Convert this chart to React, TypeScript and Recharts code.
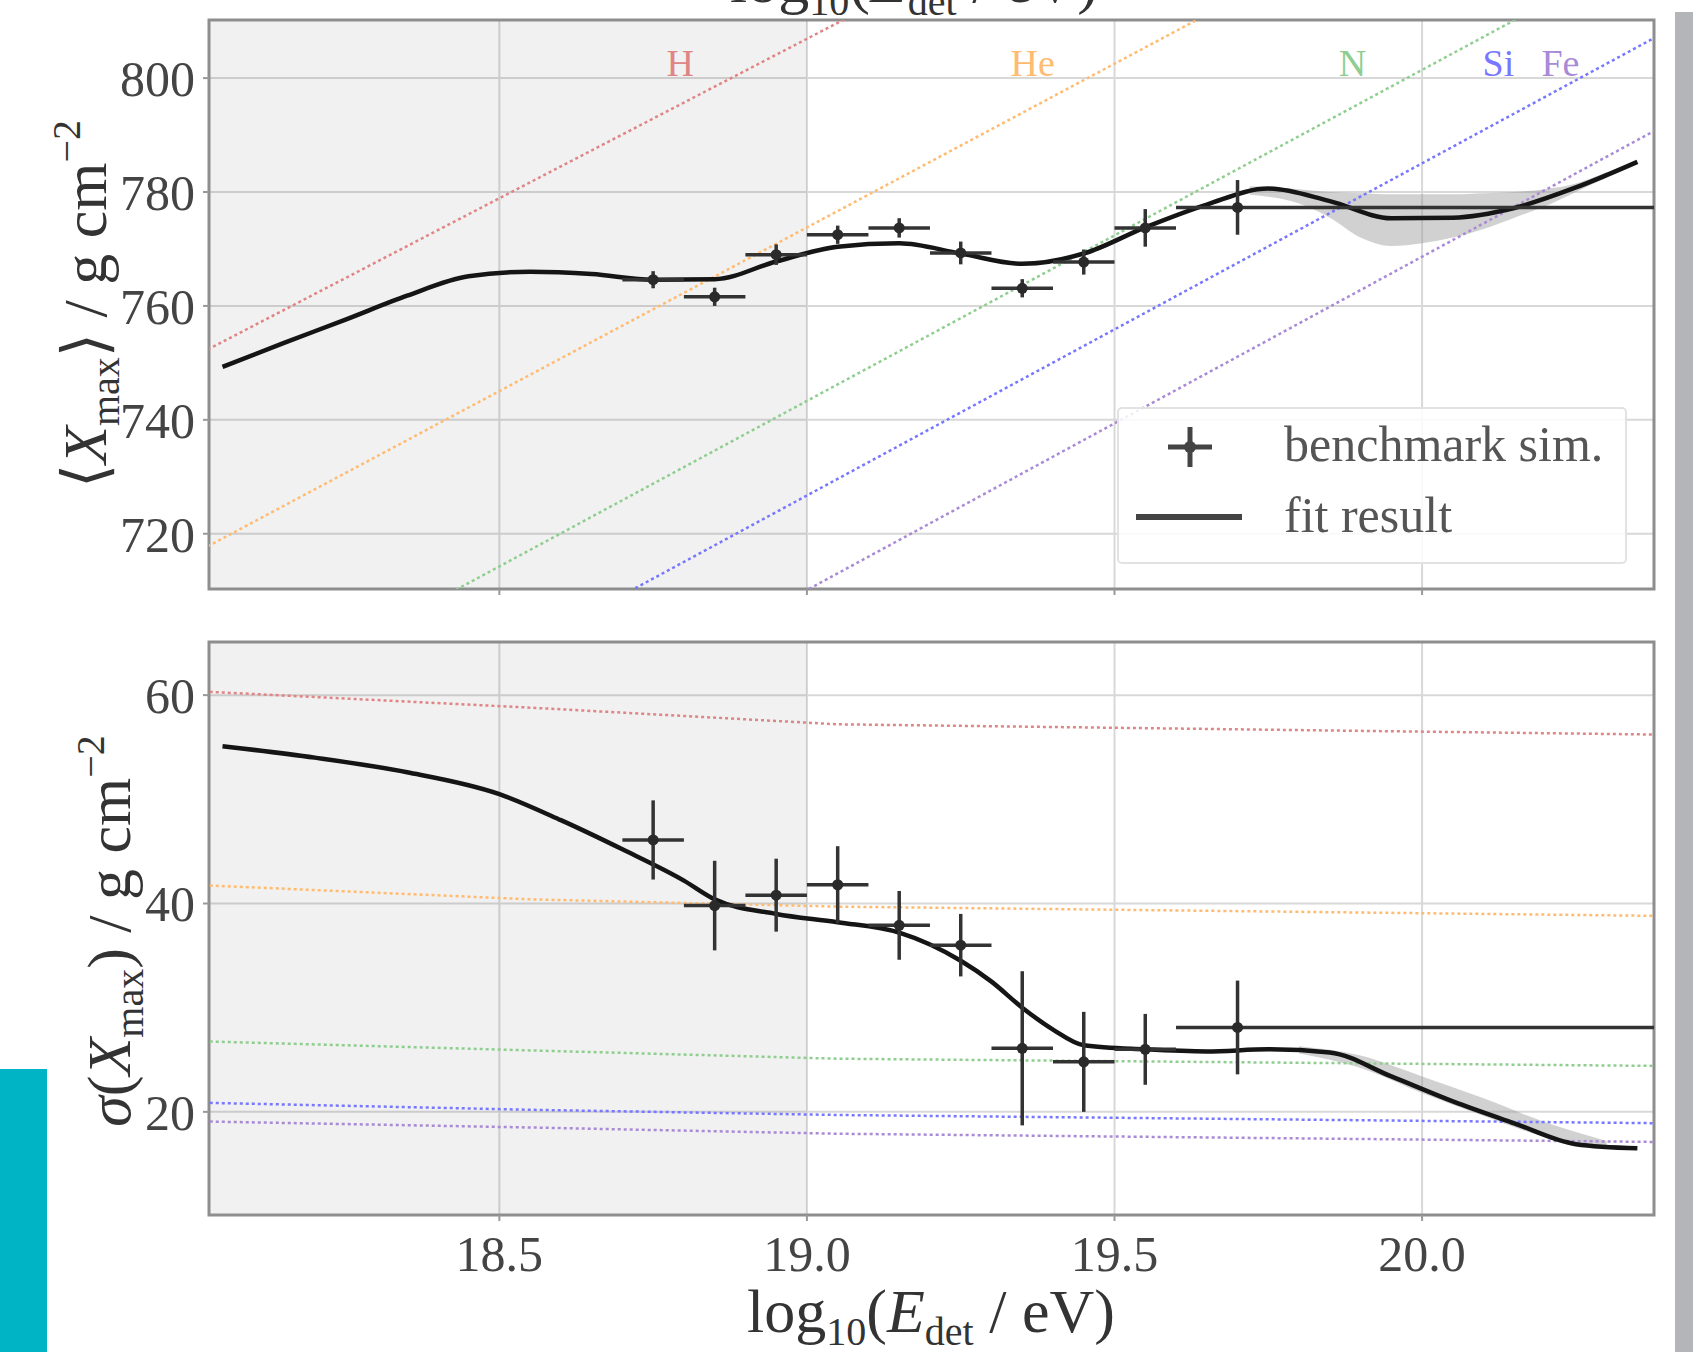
import React from 'react';
import {
  ComposedChart,
  Line,
  Area,
  Scatter,
  ErrorBar,
  XAxis,
  YAxis,
  CartesianGrid,
  ReferenceArea,
  ReferenceDot,
  Legend,
} from 'recharts';

// energy bins of the benchmark simulation, log10(E_det / eV)
const binCenters = [18.75, 18.85, 18.95, 19.05, 19.15, 19.25, 19.35, 19.45, 19.55, 19.7];
const binLow = [0.05, 0.05, 0.05, 0.05, 0.05, 0.05, 0.05, 0.05, 0.05, 0.1];
const binHigh = [0.05, 0.05, 0.05, 0.05, 0.05, 0.05, 0.05, 0.05, 0.05, 0.677];

// <Xmax> of the benchmark simulation
const meanXmax = [764.6, 761.6, 769.0, 772.5, 773.7, 769.3, 763.1, 767.7, 773.7, 777.3];
const meanXmaxErr = [1.5, 1.6, 1.8, 1.6, 1.7, 2.0, 1.6, 2.2, 3.3, 4.8];

// sigma(Xmax) of the benchmark simulation
const sigmaXmax = [46.1, 39.8, 40.8, 41.8, 37.9, 36.0, 26.1, 24.8, 26.0, 28.1];
const sigmaXmaxErr = [3.8, 4.3, 3.5, 3.7, 3.3, 3.0, 7.4, 4.8, 3.4, 4.5];

// fit result, <Xmax>
const fitMeanX = [18.05, 18.15, 18.25, 18.35, 18.45, 18.55, 18.65, 18.75, 18.85, 18.95, 19.05, 19.15, 19.25, 19.35, 19.45, 19.55, 19.65, 19.75, 19.85, 19.95, 20.05, 20.15, 20.25, 20.35];
const fitMeanY = [749.3, 753.5, 757.6, 761.8, 765.2, 766.0, 765.6, 764.6, 764.7, 767.8, 770.4, 771.0, 769.2, 767.4, 769.2, 773.8, 777.8, 780.6, 778.4, 775.4, 775.5, 777.2, 780.8, 785.3];

// fit result uncertainty band, <Xmax>
const bandMeanX = [19.72, 19.8, 19.85, 19.9, 19.95, 20.0, 20.05, 20.1, 20.15, 20.2, 20.25, 20.3];
const bandMeanLo = [779.5, 778.0, 775.5, 772.0, 770.5, 771.0, 772.0, 773.5, 775.5, 777.5, 780.0, 782.5];
const bandMeanHi = [781.0, 780.5, 780.0, 779.8, 779.6, 779.6, 779.6, 779.8, 780.0, 780.5, 781.5, 783.5];

// fit result, sigma(Xmax)
const fitSigmaX = [18.05, 18.2, 18.35, 18.5, 18.6, 18.7, 18.8, 18.85, 18.95, 19.05, 19.15, 19.25, 19.3, 19.35, 19.4, 19.45, 19.55, 19.65, 19.75, 19.85, 19.95, 20.05, 20.15, 20.25, 20.35];
const fitSigmaY = [55.1, 54.0, 52.6, 50.5, 48.0, 45.2, 42.2, 40.4, 39.0, 38.2, 37.2, 34.5, 32.5, 30.0, 27.9, 26.4, 26.0, 25.8, 26.0, 25.7, 23.4, 21.0, 18.9, 16.9, 16.5];

const bandSigmaX = [19.8, 19.9, 20.0, 20.1, 20.2, 20.3];
const bandSigmaLo = [25.6, 24.2, 21.8, 19.6, 17.6, 16.5];
const bandSigmaHi = [26.3, 25.4, 23.4, 21.3, 19.0, 17.2];

// pure-composition references
const elements = ['H', 'He', 'N', 'Si', 'Fe'];
const elementColors = ['#e08585', '#ffbb70', '#8fce8f', '#7777ff', '#a88ad6'];
const refMeanX = [18.0, 20.5];
const refMeanStart = [750.9, 716.3, 685.2, 668.4, 651.6];
const refMeanEnd = [890.9, 860.0, 830.5, 814.2, 797.9];
const refSigmaX = [18.0, 18.55, 19.05, 20.4];
const refSigmaH = [60.4, 58.8, 57.2, 56.2];
const refSigmaHe = [41.8, 40.4, 39.7, 38.8];
const refSigmaN = [26.8, 25.9, 25.1, 24.4];
const refSigmaSi = [20.9, 20.2, 19.7, 18.9];
const refSigmaFe = [19.1, 18.5, 17.9, 17.1];
const labelX = [18.794, 19.367, 19.887, 20.124, 20.225];
const labelY = 802.7;

const X_DOMAIN: [number, number] = [18.028, 20.377];
const X_TICKS = [18.5, 19.0, 19.5, 20.0];
const MEAN_DOMAIN: [number, number] = [710.3, 810.2];
const MEAN_TICKS = [720, 740, 760, 780, 800];
const SIGMA_DOMAIN: [number, number] = [10.1, 65.1];
const SIGMA_TICKS = [20, 40, 60];

const FONT = '"Liberation Serif", "DejaVu Serif", serif';
const TICK_STYLE = { fontSize: 50, fontFamily: FONT, fill: '#444' };

const meanPoints = binCenters.map((x, i) => ({ x, y: meanXmax[i], ex: [binLow[i], binHigh[i]], ey: meanXmaxErr[i] }));
const sigmaPoints = binCenters.map((x, i) => ({ x, y: sigmaXmax[i], ex: [binLow[i], binHigh[i]], ey: sigmaXmaxErr[i] }));
const fitMean = fitMeanX.map((x, i) => ({ x, y: fitMeanY[i] }));
const fitSigma = fitSigmaX.map((x, i) => ({ x, y: fitSigmaY[i] }));
const bandMean = bandMeanX.map((x, i) => ({ x, band: [bandMeanLo[i], bandMeanHi[i]] }));
const bandSigma = bandSigmaX.map((x, i) => ({ x, band: [bandSigmaLo[i], bandSigmaHi[i]] }));
const refMean = elements.map((_, i) => refMeanX.map((x, j) => ({ x, y: j === 0 ? refMeanStart[i] : refMeanEnd[i] })));
const refSigma = [refSigmaH, refSigmaHe, refSigmaN, refSigmaSi, refSigmaFe].map((vals) =>
  refSigmaX.map((x, j) => ({ x, y: vals[j] }))
);

const dot = (p: any) => <circle cx={p.cx} cy={p.cy} r={5.5} fill="#2a2a2a" />;

const MeanLabel = () => (
  <text transform="rotate(-90)" x={-304} y={106} textAnchor="middle" fontFamily={FONT} fontSize={62} fill="#333">
    <tspan>⟨</tspan>
    <tspan fontStyle="italic">X</tspan>
    <tspan fontSize={40} dy={13}>max</tspan>
    <tspan dy={-13}>⟩ / g cm</tspan>
    <tspan fontSize={40} dy={-26}>−2</tspan>
  </text>
);

const SigmaLabel = () => (
  <text transform="rotate(-90)" x={-331} y={130} textAnchor="middle" fontFamily={FONT} fontSize={62} fill="#333">
    <tspan fontStyle="italic">σ</tspan>
    <tspan>(</tspan>
    <tspan fontStyle="italic">X</tspan>
    <tspan fontSize={40} dy={13}>max</tspan>
    <tspan dy={-13}>) / g cm</tspan>
    <tspan fontSize={40} dy={-26}>−2</tspan>
  </text>
);

const EnergyLabel = ({ x, y }: { x: number; y: number }) => (
  <text x={x} y={y} textAnchor="middle" fontFamily={FONT} fontSize={62} fill="#333">
    <tspan>log</tspan>
    <tspan fontSize={40} dy={13}>10</tspan>
    <tspan dy={-13}>(</tspan>
    <tspan fontStyle="italic">E</tspan>
    <tspan fontSize={40} dy={13}>det</tspan>
    <tspan dy={-13}> / eV)</tspan>
  </text>
);

const LegendBox = () => (
  <div
    style={{
      width: 506,
      height: 153,
      border: '2px solid #e2e2e2',
      borderRadius: 5,
      background: 'rgba(255,255,255,0.85)',
      fontFamily: FONT,
      fontSize: 50,
      color: '#555',
      position: 'relative',
    }}
  >
    <svg width={140} height={153} style={{ position: 'absolute', left: 0, top: 0 }}>
      <line x1={49} x2={93} y1={38} y2={38} stroke="#444" strokeWidth={5} />
      <line x1={71} x2={71} y1={18} y2={58} stroke="#444" strokeWidth={5} />
      <circle cx={71} cy={38} r={6} fill="#444" />
      <line x1={17} x2={123} y1={108} y2={108} stroke="#444" strokeWidth={6} />
    </svg>
    <div style={{ position: 'absolute', left: 165, top: 6, whiteSpace: 'nowrap' }}>benchmark sim.</div>
    <div style={{ position: 'absolute', left: 165, top: 77, whiteSpace: 'nowrap' }}>fit result</div>
  </div>
);

export default function App() {
  return (
    <div style={{ position: 'absolute', left: 0, top: 0, width: 1701, height: 1352, background: '#fff', overflow: 'hidden' }}>
      <div style={{ position: 'absolute', left: 0, top: 0 }}>
        <ComposedChart width={1701} height={620} margin={{ top: 20, right: 47, bottom: 1, left: 89 }}>
          <CartesianGrid stroke="#d8d8d8" strokeWidth={2} />
          <ReferenceArea x1={X_DOMAIN[0]} x2={19.0} y1={MEAN_DOMAIN[0]} y2={MEAN_DOMAIN[1]} fill="#000" fillOpacity={0.055} stroke="none" />
          <XAxis
            type="number"
            dataKey="x"
            domain={X_DOMAIN}
            ticks={X_TICKS}
            allowDataOverflow
            height={30}
            tickFormatter={() => ''}
            tickSize={6}
            axisLine={false}
            tickLine={{ stroke: '#999', strokeWidth: 2 }}
            label={{ content: () => <EnergyLabel x={914} y={2} /> }}
          />
          <YAxis
            type="number"
            dataKey="y"
            domain={MEAN_DOMAIN}
            ticks={MEAN_TICKS}
            allowDataOverflow
            width={120}
            tickSize={6}
            tickMargin={8}
            axisLine={false}
            tickLine={{ stroke: '#999', strokeWidth: 2 }}
            tick={TICK_STYLE}
            label={{ content: () => <MeanLabel /> }}
          />
          {elements.map((el, i) => (
            <Line
              key={el}
              data={refMean[i]}
              dataKey="y"
              type="linear"
              stroke={elementColors[i]}
              strokeWidth={2.5}
              strokeDasharray="3 3"
              dot={false}
              legendType="none"
              isAnimationActive={false}
            />
          ))}
          {elements.map((el, i) => (
            <ReferenceDot
              key={'lbl' + el}
              x={labelX[i]}
              y={labelY}
              r={0}
              stroke="none"
              label={{ value: el, position: 'center', fill: elementColors[i], fontSize: 38, fontFamily: FONT }}
            />
          ))}
          <Area data={bandMean} dataKey="band" type="monotone" stroke="none" fill="#9a9a9a" fillOpacity={0.45} legendType="none" isAnimationActive={false} />
          <Line data={fitMean} dataKey="y" type="monotone" stroke="#151515" strokeWidth={4.5} dot={false} legendType="none" isAnimationActive={false} />
          <Scatter data={meanPoints} dataKey="y" shape={dot} legendType="none" isAnimationActive={false}>
            <ErrorBar dataKey="ex" direction="x" width={0} stroke="#333" strokeWidth={3.5} isAnimationActive={false} />
            <ErrorBar dataKey="ey" direction="y" width={0} stroke="#333" strokeWidth={3.5} isAnimationActive={false} />
          </Scatter>
          <ReferenceArea x1={X_DOMAIN[0]} x2={X_DOMAIN[1]} y1={MEAN_DOMAIN[0]} y2={MEAN_DOMAIN[1]} fill="none" stroke="#8e8e8e" strokeWidth={3} />
          <Legend
            layout="vertical"
            align="center"
            verticalAlign="middle"
            content={() => <LegendBox />}
            wrapperStyle={{ left: 1117, top: 407, width: 510, height: 157 }}
          />
        </ComposedChart>
      </div>

      <div style={{ position: 'absolute', left: 0, top: 600 }}>
        <ComposedChart width={1701} height={752} margin={{ top: 42, right: 47, bottom: 77, left: 89 }}>
          <CartesianGrid stroke="#d8d8d8" strokeWidth={2} />
          <ReferenceArea x1={X_DOMAIN[0]} x2={19.0} y1={SIGMA_DOMAIN[0]} y2={SIGMA_DOMAIN[1]} fill="#000" fillOpacity={0.055} stroke="none" />
          <XAxis
            type="number"
            dataKey="x"
            domain={X_DOMAIN}
            ticks={X_TICKS}
            allowDataOverflow
            height={60}
            tickFormatter={(v: number) => v.toFixed(1)}
            tickSize={6}
            tickMargin={14}
            axisLine={false}
            tickLine={{ stroke: '#999', strokeWidth: 2 }}
            tick={TICK_STYLE}
            label={{ content: () => <EnergyLabel x={931} y={732} /> }}
          />
          <YAxis
            type="number"
            dataKey="y"
            domain={SIGMA_DOMAIN}
            ticks={SIGMA_TICKS}
            allowDataOverflow
            width={120}
            tickSize={6}
            tickMargin={8}
            axisLine={false}
            tickLine={{ stroke: '#999', strokeWidth: 2 }}
            tick={TICK_STYLE}
            label={{ content: () => <SigmaLabel /> }}
          />
          {elements.map((el, i) => (
            <Line
              key={el}
              data={refSigma[i]}
              dataKey="y"
              type="linear"
              stroke={elementColors[i]}
              strokeWidth={2.5}
              strokeDasharray="3 3"
              dot={false}
              legendType="none"
              isAnimationActive={false}
            />
          ))}
          <Area data={bandSigma} dataKey="band" type="monotone" stroke="none" fill="#9a9a9a" fillOpacity={0.45} legendType="none" isAnimationActive={false} />
          <Line data={fitSigma} dataKey="y" type="monotone" stroke="#151515" strokeWidth={4.5} dot={false} legendType="none" isAnimationActive={false} />
          <Scatter data={sigmaPoints} dataKey="y" shape={dot} legendType="none" isAnimationActive={false}>
            <ErrorBar dataKey="ex" direction="x" width={0} stroke="#333" strokeWidth={3.5} isAnimationActive={false} />
            <ErrorBar dataKey="ey" direction="y" width={0} stroke="#333" strokeWidth={3.5} isAnimationActive={false} />
          </Scatter>
          <ReferenceArea x1={X_DOMAIN[0]} x2={X_DOMAIN[1]} y1={SIGMA_DOMAIN[0]} y2={SIGMA_DOMAIN[1]} fill="none" stroke="#8e8e8e" strokeWidth={3} />
        </ComposedChart>
      </div>

      <div style={{ position: 'absolute', left: 1675, top: 12, width: 18, height: 1340, background: '#b3b5b9' }} />
      <div style={{ position: 'absolute', left: 0, top: 1069, width: 47, height: 283, background: '#00b4c6' }} />
    </div>
  );
}
